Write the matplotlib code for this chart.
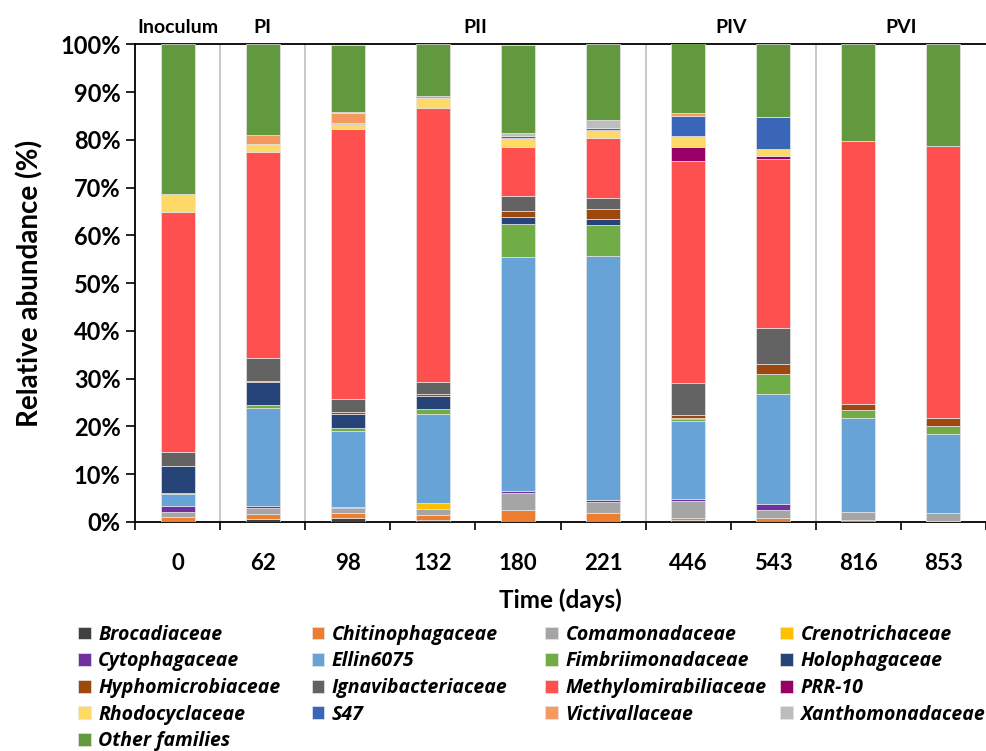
import numpy as np
import matplotlib
matplotlib.use("Agg")
import matplotlib.pyplot as plt

plt.rcParams['font.family'] = ['Lato', 'DejaVu Sans']
plt.rcParams['font.weight'] = 'bold'

days = ["0", "62", "98", "132", "180", "221", "446", "543", "816", "853"]

# relative abundance (%) per family, bottom to top
families = [
    "Brocadiaceae", "Chitinophagaceae", "Comamonadaceae", "Crenotrichaceae",
    "Cytophagaceae", "Ellin6075", "Fimbriimonadaceae", "Holophagaceae",
    "Hyphomicrobiaceae", "Ignavibacteriaceae", "Methylomirabiliaceae", "PRR-10",
    "Rhodocyclaceae", "S47", "Victivallaceae", "Xanthomonadaceae", "Other families",
]
brocadiaceae = [0, 0.55, 0.9, 0.35, 0, 0, 0.5, 0, 0, 0]
chitinophagaceae = [1.1, 1.2, 1.0, 1.05, 2.6, 1.95, 0.4, 0.75, 0.4, 0.2]
comamonadaceae = [1.0, 1.25, 1.1, 1.3, 3.55, 2.25, 3.5, 1.8, 1.7, 1.7]
crenotrichaceae = [0, 0, 0, 1.25, 0, 0, 0, 0, 0, 0]
cytophagaceae = [1.3, 0.35, 0.2, 0.1, 0.3, 0.3, 0.3, 1.25, 0, 0]
ellin6075 = [2.4, 20.5, 15.8, 18.6, 49.0, 51.1, 16.35, 22.9, 19.6, 16.5]
fimbriimonadaceae = [0.35, 0.7, 0.7, 1.05, 6.85, 6.55, 0.4, 4.35, 1.7, 1.6]
holophagaceae = [5.5, 4.75, 3.0, 2.65, 1.6, 1.2, 0.3, 0, 0, 0]
hyphomicrobiaceae = [0, 0.3, 0.35, 0.4, 1.25, 2.25, 0.6, 2.1, 1.25, 1.7]
ignavibacteriaceae = [3.0, 4.75, 2.65, 2.5, 3.0, 2.25, 6.65, 7.4, 0, 0]
methylomirabiliaceae = [50.2, 43.0, 56.5, 57.4, 10.3, 12.45, 46.5, 35.45, 55.15, 57.1]
prr10 = [0, 0, 0, 0, 0, 0, 3.0, 0.7, 0, 0]
rhodocyclaceae = [3.8, 1.75, 1.2, 2.1, 2.0, 1.7, 2.4, 1.4, 0, 0]
s47 = [0, 0, 0.2, 0, 0.4, 0.5, 4.1, 6.65, 0, 0]
victivallaceae = [0, 2.0, 2.0, 0.35, 0, 0, 0.55, 0, 0, 0]
xanthomonadaceae = [0, 0, 0.3, 0, 0.6, 1.7, 0, 0, 0, 0]
other_families = [31.35, 18.95, 14.0, 10.9, 18.45, 15.9, 14.95, 15.25, 20.2, 21.25]

values = [brocadiaceae, chitinophagaceae, comamonadaceae, crenotrichaceae,
          cytophagaceae, ellin6075, fimbriimonadaceae, holophagaceae,
          hyphomicrobiaceae, ignavibacteriaceae, methylomirabiliaceae, prr10,
          rhodocyclaceae, s47, victivallaceae, xanthomonadaceae, other_families]

colors = ["#404040", "#ED7D31", "#A5A5A5", "#FFC000", "#7030A0", "#67A3D7",
          "#70AD47", "#264478", "#9E480E", "#636363", "#FF5050", "#990066",
          "#FFD966", "#3A66B8", "#F4995F", "#BDBDBD", "#63993E"]

periods = ["Inoculum", "PI", "PII", "PIV", "PVI"]
period_pos = [0, 1, 3.5, 6.5, 8.5]
separators = [0.5, 1.5, 5.5, 7.5]

fig = plt.figure(figsize=(9.86, 7.51), dpi=100)
ax = fig.add_axes([0.137, 0.305, 0.863, 0.636])

x = np.arange(len(days))
bottom = np.zeros(len(days))
handles = []
for name, vals, c in zip(families, values, colors):
    b = ax.bar(x, vals, 0.4, bottom=bottom, color=c, edgecolor="#e6e6e6",
               linewidth=0.5, label=name, zorder=3)
    handles.append(b)
    bottom += np.array(vals)

for s in separators:
    ax.axvline(s, color="#BFBFBF", lw=1.2, zorder=1)

ax.set_xlim(-0.5, len(days) - 0.5)
ax.set_ylim(0, 100)
ax.set_yticks(np.arange(0, 101, 10))
ax.set_yticklabels([f"{v}%" for v in range(0, 101, 10)], fontsize=17, fontweight="bold")
ax.tick_params(axis="y", length=6.5, width=1.2, pad=4)

ax.set_xticks(np.arange(-0.5, len(days), 1))
ax.set_xticklabels([])
ax.set_xticks(x, minor=True)
ax.set_xticklabels(days, minor=True, fontsize=16, fontweight="bold")
ax.tick_params(axis="x", which="major", length=6, width=1.2)
ax.tick_params(axis="x", which="minor", length=0, pad=22)

for side in ["left", "bottom", "top"]:
    ax.spines[side].set_linewidth(1.3)
ax.spines["right"].set_visible(False)

for p, xp in zip(periods, period_pos):
    ax.text(xp, 101.8, p, ha="center", va="bottom", fontsize=14, fontweight="bold")

ax.set_ylabel("Relative abundance (%)", fontsize=20, fontweight="bold", labelpad=12)
ax.set_xlabel("Time (days)", fontsize=17.5, fontweight="bold", labelpad=11)

# legend laid out row by row in 4 columns
col_x = [0.079, 0.316, 0.553, 0.791]
for c in range(4):
    hs = handles[c::4]
    fig.legend(hs, [h.get_label() for h in hs], loc="upper left",
               bbox_to_anchor=(col_x[c], 0.168), frameon=False,
               prop={"family": ["Open Sans", "DejaVu Sans"], "size": 14,
                     "weight": "bold", "style": "italic"},
               handlelength=0.65, handleheight=0.65, handletextpad=0.4,
               labelspacing=0.34, borderaxespad=0, borderpad=0)

fig.savefig("out.png", dpi=100)
